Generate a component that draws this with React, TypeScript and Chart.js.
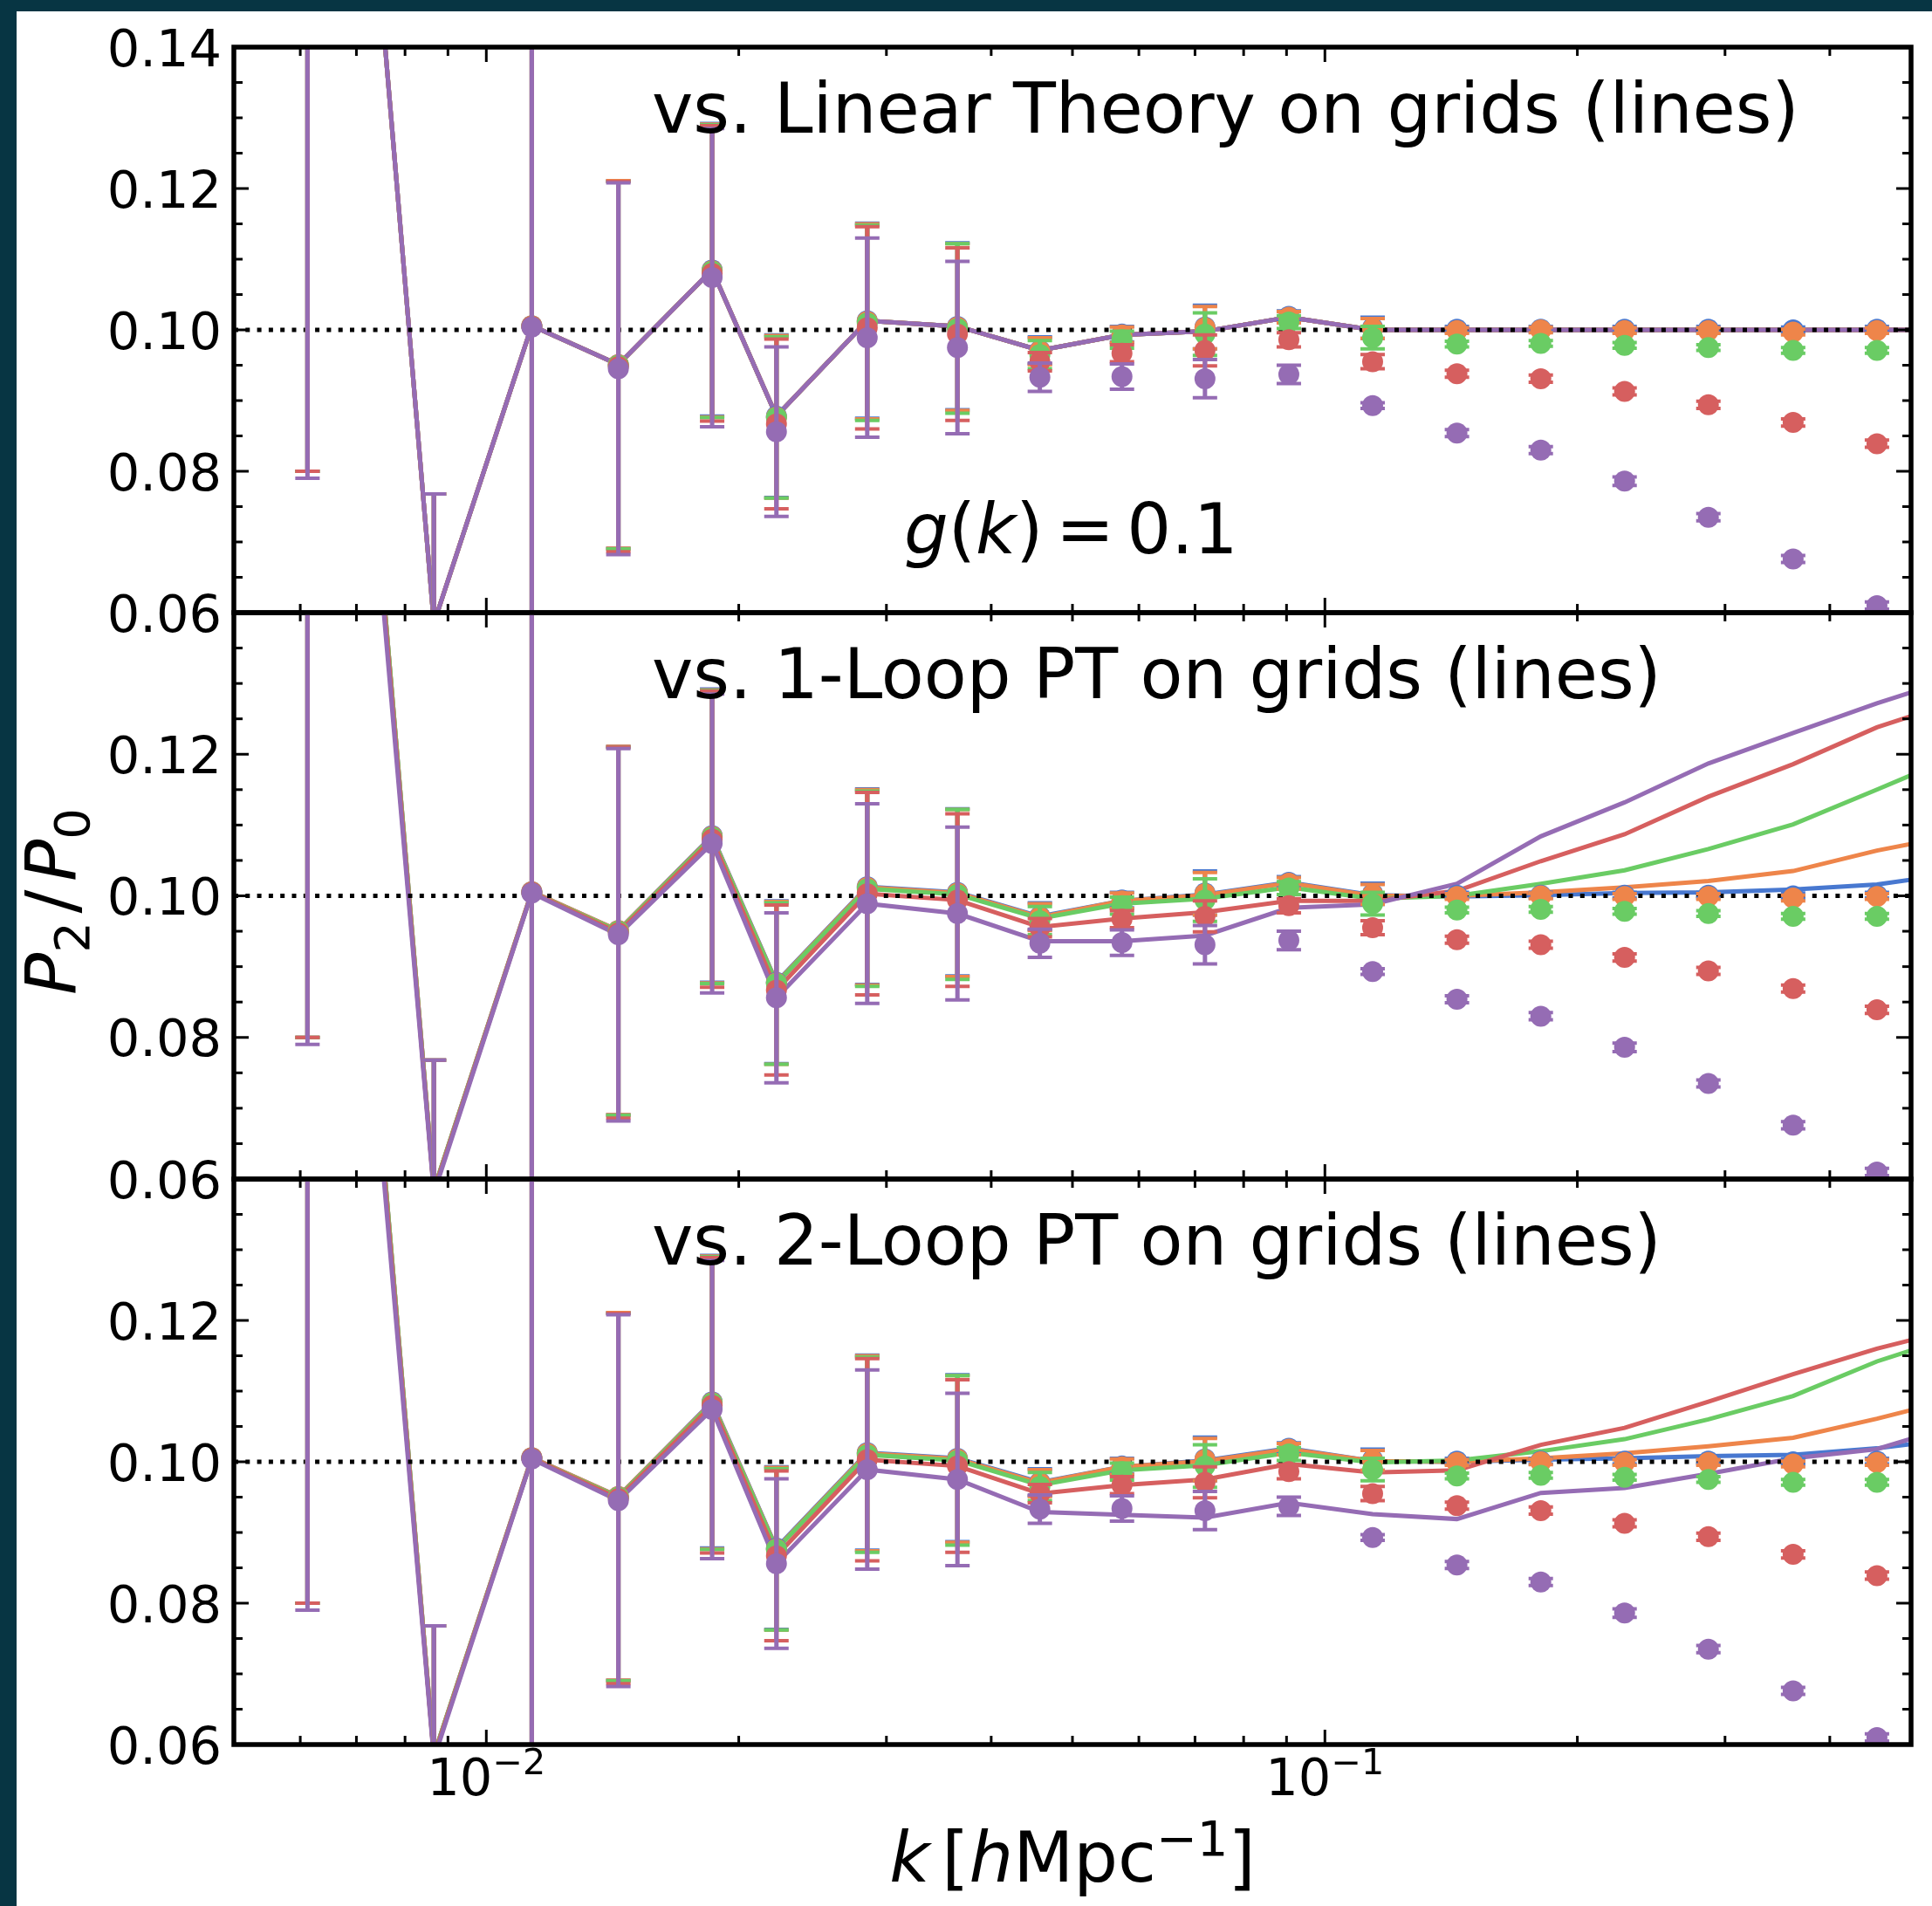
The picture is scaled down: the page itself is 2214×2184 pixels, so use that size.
import React, { useEffect, useRef } from "react";
import { Chart, registerables } from "chart.js";

Chart.register(...registerables);

// ---------------- data ----------------
const kBins = [0.00612, 0.00866, 0.01133, 0.01437, 0.01859, 0.02218, 0.02846, 0.03646, 0.04572, 0.05728, 0.07194, 0.09057, 0.114, 0.1437, 0.1809, 0.2277, 0.2866, 0.3617, 0.4553];
const kLine = [0.00612, 0.00866, 0.01133, 0.01437, 0.01859, 0.02218, 0.02846, 0.03646, 0.04572, 0.05728, 0.07194, 0.09057, 0.114, 0.1437, 0.1809, 0.2277, 0.2866, 0.3617, 0.4553, 0.5733];

const seriesColors = ["#4878D0", "#EE854A", "#6ACC64", "#D65F5F", "#956CB4"];

const pointsBlue = [0.27, 0.0585, 0.1006, 0.0951, 0.1085, 0.0878, 0.1013, 0.1005, 0.0971, 0.0994, 0.1004, 0.1019, 0.1003, 0.1001, 0.1001, 0.1001, 0.1001, 0.1, 0.1001];
const pointsOrange = [0.27, 0.0585, 0.1006, 0.0951, 0.1084, 0.0877, 0.1012, 0.1004, 0.097, 0.0993, 0.1003, 0.1018, 0.1002, 0.0999, 0.1, 0.0999, 0.0999, 0.0997, 0.0999];
const pointsGreen = [0.27, 0.0585, 0.1005, 0.095, 0.1083, 0.0876, 0.101, 0.1002, 0.0965, 0.0986, 0.0994, 0.1011, 0.0989, 0.098, 0.0981, 0.0978, 0.0975, 0.0971, 0.0971];
const pointsRed = [0.268, 0.0583, 0.1005, 0.0948, 0.108, 0.0867, 0.1003, 0.0994, 0.0955, 0.0967, 0.0971, 0.0986, 0.0955, 0.0938, 0.0931, 0.0913, 0.0894, 0.0869, 0.0839];
const pointsPurple = [0.265, 0.058, 0.1004, 0.0945, 0.1074, 0.0856, 0.0989, 0.0975, 0.0933, 0.0934, 0.0931, 0.0937, 0.0893, 0.0854, 0.083, 0.0786, 0.0735, 0.0676, 0.061];

const errBlue = [0.19, 0.0183, 0.06, 0.026, 0.0207, 0.0115, 0.0138, 0.0118, 0.0019, 0.0011, 0.0031, 0.0008, 0.0015, 0.0004, 0.0004, 0.0004, 0.0004, 0.0004, 0.0004];
const errOrange = [0.19, 0.0183, 0.06, 0.026, 0.0207, 0.0115, 0.0138, 0.0118, 0.0019, 0.0011, 0.003, 0.0008, 0.0014, 0.0004, 0.0004, 0.0004, 0.0004, 0.0004, 0.0004];
const errGreen = [0.19, 0.0183, 0.06, 0.026, 0.0207, 0.0114, 0.0138, 0.012, 0.002, 0.0012, 0.003, 0.0009, 0.0016, 0.0004, 0.0004, 0.0004, 0.0004, 0.0004, 0.0004];
const errRed = [0.188, 0.0185, 0.06, 0.0262, 0.0209, 0.012, 0.0143, 0.0122, 0.0013, 0.0012, 0.0022, 0.001, 0.001, 0.0005, 0.0005, 0.0005, 0.0005, 0.0005, 0.0005];
const errPurple = [0.186, 0.0188, 0.06, 0.0263, 0.0211, 0.012, 0.0141, 0.0122, 0.002, 0.0018, 0.0027, 0.0013, 0.0004, 0.0005, 0.0005, 0.0006, 0.0005, 0.0005, 0.0005];

// linear theory on grids (identical for all five series)
const lineLinear = [0.27, 0.0585, 0.1006, 0.0951, 0.1085, 0.0878, 0.1013, 0.1005, 0.0971, 0.0993, 0.0998, 0.1018, 0.1, 0.1, 0.1, 0.1, 0.1, 0.1, 0.1, 0.1];

const oneLoopBlue = [0.27, 0.0585, 0.1006, 0.0951, 0.1085, 0.0878, 0.1013, 0.1005, 0.0971, 0.0993, 0.1002, 0.1019, 0.1001, 0.0999, 0.1001, 0.1004, 0.1005, 0.1009, 0.1016, 0.1033];
const oneLoopOrange = [0.27, 0.0585, 0.1006, 0.0951, 0.1084, 0.0877, 0.1012, 0.1004, 0.097, 0.0993, 0.1001, 0.1018, 0.1, 0.1, 0.1005, 0.1012, 0.1021, 0.1035, 0.1064, 0.1087];
const oneLoopGreen = [0.27, 0.0585, 0.1005, 0.095, 0.1083, 0.0876, 0.101, 0.1002, 0.0968, 0.0989, 0.0996, 0.1012, 0.0996, 0.1, 0.1017, 0.1036, 0.1066, 0.1101, 0.115, 0.12];
const oneLoopRed = [0.268, 0.0583, 0.1005, 0.0948, 0.108, 0.0867, 0.1003, 0.0994, 0.0956, 0.0968, 0.0977, 0.0993, 0.0993, 0.1007, 0.1049, 0.1087, 0.114, 0.1186, 0.1238, 0.1277];
const oneLoopPurple = [0.265, 0.058, 0.1004, 0.0945, 0.1074, 0.0856, 0.0989, 0.0975, 0.0936, 0.0936, 0.0944, 0.0983, 0.0988, 0.1017, 0.1084, 0.1132, 0.1187, 0.123, 0.1272, 0.131];

const twoLoopBlue = [0.27, 0.0585, 0.1006, 0.0951, 0.1085, 0.0878, 0.1013, 0.1005, 0.0971, 0.0993, 0.1002, 0.1019, 0.1001, 0.1, 0.1003, 0.1005, 0.1008, 0.101, 0.1019, 0.1034];
const twoLoopOrange = [0.27, 0.0585, 0.1006, 0.0951, 0.1084, 0.0877, 0.1012, 0.1004, 0.097, 0.0993, 0.1001, 0.1018, 0.1001, 0.1, 0.1005, 0.1012, 0.1022, 0.1034, 0.1061, 0.1091];
const twoLoopGreen = [0.27, 0.0585, 0.1005, 0.095, 0.1083, 0.0876, 0.101, 0.1002, 0.0967, 0.0988, 0.0995, 0.1013, 0.0999, 0.1002, 0.1015, 0.1032, 0.106, 0.1093, 0.1142, 0.118];
const twoLoopRed = [0.268, 0.0583, 0.1005, 0.0948, 0.108, 0.0867, 0.1003, 0.0994, 0.0955, 0.0967, 0.0975, 0.0997, 0.0985, 0.0988, 0.1024, 0.1048, 0.1085, 0.1124, 0.116, 0.119];
const twoLoopPurple = [0.265, 0.058, 0.1004, 0.0945, 0.1074, 0.0856, 0.0989, 0.0975, 0.0929, 0.0925, 0.0921, 0.0942, 0.0926, 0.0919, 0.0956, 0.0963, 0.0983, 0.1005, 0.1018, 0.1054];

const refLevel = 0.1;

const xMin = 0.005;
const xMax = 0.5;
const yMin = 0.06;
const yMax = 0.14;

const yTickValues = [0.06, 0.08, 0.1, 0.12, 0.14];
const yTickLabels = ["0.06", "0.08", "0.10", "0.12", "0.14"];
const yMinorTicks = [0.065, 0.07, 0.075, 0.085, 0.09, 0.095, 0.105, 0.11, 0.115, 0.125, 0.13, 0.135];
const xMajorTicks = [0.01, 0.1];
const xTickBase = ["10", "10"];
const xTickExp = ["\u22122", "\u22121"];
const xMinorTicks = [0.006, 0.007, 0.008, 0.009, 0.02, 0.03, 0.04, 0.05, 0.06, 0.07, 0.08, 0.09, 0.2, 0.3, 0.4];

const panelTitles = [
  "vs. Linear Theory on grids (lines)",
  "vs. 1-Loop PT on grids (lines)",
  "vs. 2-Loop PT on grids (lines)",
];

const pointSeries = [pointsBlue, pointsOrange, pointsGreen, pointsRed, pointsPurple];
const errSeries = [errBlue, errOrange, errGreen, errRed, errPurple];
const panelLines = [
  [lineLinear, lineLinear, lineLinear, lineLinear, lineLinear],
  [oneLoopBlue, oneLoopOrange, oneLoopGreen, oneLoopRed, oneLoopPurple],
  [twoLoopBlue, twoLoopOrange, twoLoopGreen, twoLoopRed, twoLoopPurple],
];

// ---------------- layout ----------------
const FIG_W = 2214;
const FIG_H = 2184;
const PLOT_L = 268;
const PLOT_R = 2190;
const PANEL_TOP = [54, 702, 1351];
const PANEL_BOT = [702, 1351, 1999];
const PAD_TOP = 40;
const PAD_BOT = [40, 40, 110];
const FONT = '"DejaVu Sans", "DejaVu Sans Book", sans-serif';
const TICK_FS = 59;
const MAJ_LEN = 17;
const MIN_LEN = 10;
const TEAL = "#073543";

const errorBarPlugin = {
  id: "errbars",
  beforeDatasetDraw(chart: any, args: any) {
    const ds: any = chart.data.datasets[args.index];
    if (!ds.errors) return;
    const { ctx, chartArea: a } = chart;
    const xs = chart.scales.x;
    const ys = chart.scales.y;
    ctx.save();
    ctx.beginPath();
    ctx.rect(a.left, a.top, a.right - a.left, a.bottom - a.top);
    ctx.clip();
    ctx.strokeStyle = ds.borderColor;
    ctx.lineCap = "butt";
    ds.data.forEach((p: any, j: number) => {
      const e = ds.errors[j];
      const px = xs.getPixelForValue(p.x);
      const y1 = ys.getPixelForValue(p.y - e);
      const y2 = ys.getPixelForValue(p.y + e);
      ctx.lineWidth = 5;
      ctx.beginPath();
      ctx.moveTo(px, y1);
      ctx.lineTo(px, y2);
      ctx.stroke();
      ctx.lineWidth = 4;
      ctx.beginPath();
      ctx.moveTo(px - 14, y1);
      ctx.lineTo(px + 14, y1);
      ctx.moveTo(px - 14, y2);
      ctx.lineTo(px + 14, y2);
      ctx.stroke();
    });
    ctx.restore();
  },
};

const axesPlugin = {
  id: "axesDeco",
  afterDatasetsDraw(chart: any, _args: any, opts: any) {
    const { ctx, chartArea: a } = chart;
    const xs = chart.scales.x;
    const ys = chart.scales.y;
    ctx.save();
    ctx.strokeStyle = "#000";
    ctx.lineCap = "butt";
    ctx.lineWidth = 3;
    const seg = (x1: number, y1: number, x2: number, y2: number) => {
      ctx.beginPath();
      ctx.moveTo(x1, y1);
      ctx.lineTo(x2, y2);
      ctx.stroke();
    };
    xMajorTicks.forEach((v) => {
      const px = xs.getPixelForValue(v);
      seg(px, a.bottom, px, a.bottom - MAJ_LEN);
      seg(px, a.top, px, a.top + MAJ_LEN);
    });
    xMinorTicks.forEach((v) => {
      const px = xs.getPixelForValue(v);
      seg(px, a.bottom, px, a.bottom - MIN_LEN);
      seg(px, a.top, px, a.top + MIN_LEN);
    });
    yTickValues.forEach((v) => {
      const py = ys.getPixelForValue(v);
      seg(a.left, py, a.left + MAJ_LEN, py);
      seg(a.right, py, a.right - MAJ_LEN, py);
    });
    yMinorTicks.forEach((v) => {
      const py = ys.getPixelForValue(v);
      seg(a.left, py, a.left + MIN_LEN, py);
      seg(a.right, py, a.right - MIN_LEN, py);
    });
    ctx.lineWidth = 5.5;
    ctx.strokeRect(a.left, a.top, a.right - a.left, a.bottom - a.top);

    ctx.fillStyle = "#000";
    ctx.font = `${TICK_FS}px ${FONT}`;
    ctx.textAlign = "right";
    ctx.textBaseline = "alphabetic";
    yTickValues.forEach((v, i) => {
      if (!opts.showTop && v === yMax) return;
      const py = ys.getPixelForValue(v);
      ctx.fillText(yTickLabels[i], a.left - 14, py + 0.3645 * TICK_FS);
    });
    if (opts.showX) {
      ctx.textAlign = "left";
      xMajorTicks.forEach((v, i) => {
        const px = xs.getPixelForValue(v);
        ctx.font = `${TICK_FS}px ${FONT}`;
        const wb = ctx.measureText(xTickBase[i]).width;
        ctx.font = `${TICK_FS * 0.7}px ${FONT}`;
        const we = ctx.measureText(xTickExp[i]).width;
        const x0 = px - (wb + we) / 2;
        const base = a.bottom + 58;
        ctx.font = `${TICK_FS}px ${FONT}`;
        ctx.fillText(xTickBase[i], x0, base);
        ctx.font = `${TICK_FS * 0.7}px ${FONT}`;
        ctx.fillText(xTickExp[i], x0 + wb, base - 24);
      });
    }
    ctx.restore();
  },
};

function buildConfig(idx: number): any {
  const datasets: any[] = [];
  panelLines[idx].forEach((vals, i) => {
    datasets.push({
      data: kLine.map((k, j) => ({ x: k, y: vals[j] })),
      showLine: true,
      borderColor: seriesColors[i],
      backgroundColor: seriesColors[i],
      borderWidth: 5,
      pointRadius: 0,
      tension: 0,
      clip: 0,
      order: 100 - i,
    });
  });
  datasets.push({
    data: [
      { x: xMin, y: refLevel },
      { x: xMax, y: refLevel },
    ],
    showLine: true,
    borderColor: "#000",
    borderWidth: 5,
    borderDash: [5, 8.3],
    borderCapStyle: "butt",
    pointRadius: 0,
    clip: 0,
    order: 50,
  });
  pointSeries.forEach((vals, i) => {
    datasets.push({
      data: kBins.map((k, j) => ({ x: k, y: vals[j] })),
      errors: errSeries[i],
      showLine: false,
      borderColor: seriesColors[i],
      backgroundColor: seriesColors[i],
      pointBackgroundColor: seriesColors[i],
      pointBorderColor: seriesColors[i],
      pointRadius: 12,
      pointBorderWidth: 0,
      pointHoverRadius: 12,
      clip: 0,
      order: 10 - i,
    });
  });
  return {
    type: "scatter",
    data: { datasets },
    options: {
      responsive: false,
      maintainAspectRatio: false,
      animation: false,
      devicePixelRatio: 1,
      events: [],
      layout: {
        padding: { left: PLOT_L, right: FIG_W - PLOT_R, top: PAD_TOP, bottom: PAD_BOT[idx] },
      },
      scales: {
        x: { type: "logarithmic", min: xMin, max: xMax, display: false },
        y: { type: "linear", min: yMin, max: yMax, display: false },
      },
      plugins: {
        legend: { display: false },
        tooltip: { enabled: false },
        axesDeco: { showTop: idx === 0, showX: idx === 2 },
      },
    },
    plugins: [errorBarPlugin, axesPlugin],
  };
}

function Panel({ idx }: { idx: number }) {
  const ref = useRef<HTMLCanvasElement | null>(null);
  useEffect(() => {
    if (!ref.current) return;
    const chart = new Chart(ref.current, buildConfig(idx));
    return () => chart.destroy();
  }, [idx]);
  const h = PANEL_BOT[idx] - PANEL_TOP[idx] + PAD_TOP + PAD_BOT[idx];
  return (
    <canvas
      ref={ref}
      width={FIG_W}
      height={h}
      style={{ position: "absolute", left: 0, top: PANEL_TOP[idx] - PAD_TOP, width: FIG_W, height: h }}
    />
  );
}

const textBase: React.CSSProperties = {
  position: "absolute",
  fontFamily: FONT,
  fontSize: 80,
  lineHeight: "80px",
  whiteSpace: "nowrap",
  color: "#000",
};

export default function App() {
  return (
    <div style={{ position: "absolute", left: 0, top: 0, width: FIG_W, height: FIG_H, background: TEAL, overflow: "hidden" }}>
      <div style={{ position: "absolute", left: 19, top: 13, right: 0, bottom: 0, background: "#fff" }} />
      {[0, 1, 2].map((i) => (
        <Panel key={i} idx={i} />
      ))}
      {panelTitles.map((t, i) => (
        <div key={t} style={{ ...textBase, left: 747, top: PANEL_TOP[i] + 31 }}>
          {t}
        </div>
      ))}
      <div style={{ ...textBase, left: 1036, top: 567 }}>
        <i>g</i>(<i>k</i>)<span style={{ margin: "0 0.18em" }}>=</span>0.1
      </div>
      <div
        style={{
          ...textBase,
          left: 64 - 200,
          top: 1029 - 40,
          width: 400,
          textAlign: "center",
          transform: "rotate(-90deg)",
        }}
      >
        <i>P</i>
        <span style={{ fontSize: "0.7em", position: "relative", top: 15 }}>2</span>
        <span style={{ margin: "0 0.12em" }}>/</span>
        <i>P</i>
        <span style={{ fontSize: "0.7em", position: "relative", top: 15 }}>0</span>
      </div>
      <div style={{ ...textBase, left: 1229 - 400, top: 2089, width: 800, textAlign: "center" }}>
        <i>k</i>
        <span style={{ marginLeft: "0.17em" }}>[</span>
        <i>h</i>Mpc
        <span style={{ fontSize: "0.7em", position: "relative", top: -30 }}>{"\u22121"}</span>]
      </div>
    </div>
  );
}
